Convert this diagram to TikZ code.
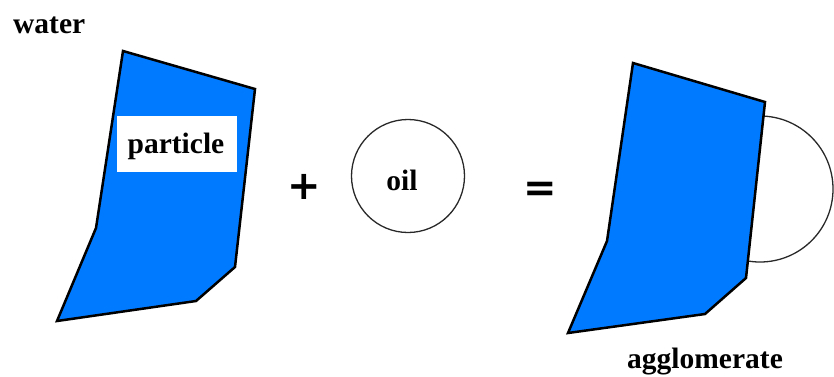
\documentclass[tikz,border=0pt]{standalone}
\usepackage{fontspec}
\setmainfont{Liberation Serif}
\newfontfamily\symfont{DejaVu Sans}
\definecolor{partblue}{RGB}{0,122,255}
\definecolor{oilline}{RGB}{40,40,40}
\tikzset{
  lbl/.style={font=\bfseries\fontsize{29.5}{31}\selectfont, inner sep=0pt, text=black},
  opsym/.style={font=\symfont\bfseries\fontsize{40}{40}\selectfont, inner sep=0pt},
  grain/.style={fill=partblue, draw=black, line width=2.5pt, line join=miter},
  drop/.style={draw=oilline, line width=1.3pt},
  tag/.style={fill=white, draw=none, minimum width=120pt, minimum height=56pt, inner sep=0pt}
}
\begin{document}
\begin{tikzpicture}[x=1pt,y=-1pt]
\useasboundingbox (0,0) rectangle (834,376);
% left particle
\draw[grain] (123,51) -- (255,89) -- (235,267) -- (196,301) -- (57,321) -- (96,228) -- cycle;
\node[tag] (tagbox) at (177,144) {};
\node[lbl, anchor=base] (particle) at (176,153) {particle};
\node[lbl, anchor=base west] (water) at (13,33) {water};
% plus
\node[opsym] (plus) at (304.5,187) {+};
% oil droplet
\node[drop, circle, minimum size=113pt, inner sep=0pt] (oildrop) at (408,176) {};
\node[lbl, anchor=base] (oil) at (402,190) {oil};
% equals
\node[opsym] (equals) at (540,192) {=};
% agglomerate
\draw[drop] (760,189) circle (73);
\draw[grain] (633,63) -- (765,102) -- (746,278) -- (705,314) -- (568,333) -- (607,241) -- cycle;
\node[lbl, anchor=base west] (agglo) at (627,368) {agglomerate};
\end{tikzpicture}
\end{document}
